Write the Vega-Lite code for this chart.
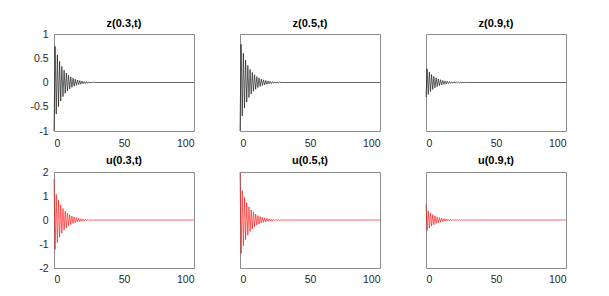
{
"$schema": "https://vega.github.io/schema/vega-lite/v6.json",
"padding": {"left": 29, "top": 18, "right": 5, "bottom": 5},
"background": "white",
"config": {
  "font": "Liberation Sans",
  "view": {"stroke": "#8c8c8c", "strokeWidth": 1},
  "axis": {"grid": false, "domain": false, "ticks": false, "labelFontSize": 10.5, "labelColor": "#262626", "labelPadding": 4, "title": null, "labelExpr": "'' + datum.value"},
  "axisX": {"labelPadding": 5},
  "header": {"labelFontWeight": "bold", "labelFontSize": 11, "labelColor": "#000000", "labelPadding": 4, "labelFont": "Liberation Sans"}
},
"datasets": {
  "z": [
    {"p":"z(0.3,t)","t":0,"v":-1},{"p":"z(0.3,t)","t":0.8,"v":0.744},{"p":"z(0.3,t)","t":1.6,"v":-0.651},{"p":"z(0.3,t)","t":2.4,"v":0.57},{"p":"z(0.3,t)","t":3.2,"v":-0.499},{"p":"z(0.3,t)","t":4,"v":0.436},{"p":"z(0.3,t)","t":4.8,"v":-0.382},{"p":"z(0.3,t)","t":5.6,"v":0.334},{"p":"z(0.3,t)","t":6.4,"v":-0.292},{"p":"z(0.3,t)","t":7.2,"v":0.256},{"p":"z(0.3,t)","t":8,"v":-0.224},{"p":"z(0.3,t)","t":8.8,"v":0.196},{"p":"z(0.3,t)","t":9.6,"v":-0.172},{"p":"z(0.3,t)","t":10.4,"v":0.15},{"p":"z(0.3,t)","t":11.2,"v":-0.132},{"p":"z(0.3,t)","t":12,"v":0.115},{"p":"z(0.3,t)","t":12.8,"v":-0.1},{"p":"z(0.3,t)","t":13.6,"v":0.088},{"p":"z(0.3,t)","t":14.4,"v":-0.077},{"p":"z(0.3,t)","t":15.2,"v":0.067},{"p":"z(0.3,t)","t":16,"v":-0.059},{"p":"z(0.3,t)","t":16.8,"v":0.052},{"p":"z(0.3,t)","t":17.6,"v":-0.045},{"p":"z(0.3,t)","t":18.4,"v":0.04},{"p":"z(0.3,t)","t":19.2,"v":-0.035},{"p":"z(0.3,t)","t":20,"v":0.031},{"p":"z(0.3,t)","t":20.8,"v":-0.026},{"p":"z(0.3,t)","t":21.6,"v":0.023},{"p":"z(0.3,t)","t":22.4,"v":-0.02},{"p":"z(0.3,t)","t":23.2,"v":0.018},{"p":"z(0.3,t)","t":24,"v":-0.015},{"p":"z(0.3,t)","t":24.8,"v":0.014},{"p":"z(0.3,t)","t":25.6,"v":-0.012},{"p":"z(0.3,t)","t":26.4,"v":0.01},{"p":"z(0.3,t)","t":27.2,"v":-0.009},{"p":"z(0.3,t)","t":28,"v":0.008},{"p":"z(0.3,t)","t":30,"v":0},{"p":"z(0.3,t)","t":100,"v":0},
    {"p":"z(0.5,t)","t":0,"v":-1},{"p":"z(0.5,t)","t":0.8,"v":0.788},{"p":"z(0.5,t)","t":1.6,"v":-0.689},{"p":"z(0.5,t)","t":2.4,"v":0.603},{"p":"z(0.5,t)","t":3.2,"v":-0.528},{"p":"z(0.5,t)","t":4,"v":0.462},{"p":"z(0.5,t)","t":4.8,"v":-0.404},{"p":"z(0.5,t)","t":5.6,"v":0.354},{"p":"z(0.5,t)","t":6.4,"v":-0.31},{"p":"z(0.5,t)","t":7.2,"v":0.271},{"p":"z(0.5,t)","t":8,"v":-0.238},{"p":"z(0.5,t)","t":8.8,"v":0.208},{"p":"z(0.5,t)","t":9.6,"v":-0.182},{"p":"z(0.5,t)","t":10.4,"v":0.159},{"p":"z(0.5,t)","t":11.2,"v":-0.14},{"p":"z(0.5,t)","t":12,"v":0.122},{"p":"z(0.5,t)","t":12.8,"v":-0.106},{"p":"z(0.5,t)","t":13.6,"v":0.094},{"p":"z(0.5,t)","t":14.4,"v":-0.082},{"p":"z(0.5,t)","t":15.2,"v":0.071},{"p":"z(0.5,t)","t":16,"v":-0.062},{"p":"z(0.5,t)","t":16.8,"v":0.055},{"p":"z(0.5,t)","t":17.6,"v":-0.048},{"p":"z(0.5,t)","t":18.4,"v":0.042},{"p":"z(0.5,t)","t":19.2,"v":-0.037},{"p":"z(0.5,t)","t":20,"v":0.032},{"p":"z(0.5,t)","t":20.8,"v":-0.028},{"p":"z(0.5,t)","t":21.6,"v":0.024},{"p":"z(0.5,t)","t":22.4,"v":-0.022},{"p":"z(0.5,t)","t":23.2,"v":0.019},{"p":"z(0.5,t)","t":24,"v":-0.016},{"p":"z(0.5,t)","t":24.8,"v":0.014},{"p":"z(0.5,t)","t":25.6,"v":-0.013},{"p":"z(0.5,t)","t":26.4,"v":0.011},{"p":"z(0.5,t)","t":27.2,"v":-0.01},{"p":"z(0.5,t)","t":28,"v":0.008},{"p":"z(0.5,t)","t":30,"v":0},{"p":"z(0.5,t)","t":100,"v":0},
    {"p":"z(0.9,t)","t":0,"v":-0.3},{"p":"z(0.9,t)","t":0.8,"v":0.28},{"p":"z(0.9,t)","t":1.6,"v":-0.245},{"p":"z(0.9,t)","t":2.4,"v":0.214},{"p":"z(0.9,t)","t":3.2,"v":-0.188},{"p":"z(0.9,t)","t":4,"v":0.164},{"p":"z(0.9,t)","t":4.8,"v":-0.144},{"p":"z(0.9,t)","t":5.6,"v":0.126},{"p":"z(0.9,t)","t":6.4,"v":-0.11},{"p":"z(0.9,t)","t":7.2,"v":0.096},{"p":"z(0.9,t)","t":8,"v":-0.084},{"p":"z(0.9,t)","t":8.8,"v":0.074},{"p":"z(0.9,t)","t":9.6,"v":-0.065},{"p":"z(0.9,t)","t":10.4,"v":0.057},{"p":"z(0.9,t)","t":11.2,"v":-0.05},{"p":"z(0.9,t)","t":12,"v":0.043},{"p":"z(0.9,t)","t":12.8,"v":-0.038},{"p":"z(0.9,t)","t":13.6,"v":0.033},{"p":"z(0.9,t)","t":14.4,"v":-0.029},{"p":"z(0.9,t)","t":15.2,"v":0.025},{"p":"z(0.9,t)","t":16,"v":-0.022},{"p":"z(0.9,t)","t":16.8,"v":0.02},{"p":"z(0.9,t)","t":17.6,"v":-0.017},{"p":"z(0.9,t)","t":18.4,"v":0.015},{"p":"z(0.9,t)","t":19.2,"v":-0.013},{"p":"z(0.9,t)","t":20,"v":0.012},{"p":"z(0.9,t)","t":20.8,"v":-0.01},{"p":"z(0.9,t)","t":21.6,"v":0.009},{"p":"z(0.9,t)","t":22.4,"v":-0.008},{"p":"z(0.9,t)","t":23.2,"v":0.007},{"p":"z(0.9,t)","t":24,"v":-0.006},{"p":"z(0.9,t)","t":24.8,"v":0.005},{"p":"z(0.9,t)","t":25.6,"v":-0.004},{"p":"z(0.9,t)","t":26.4,"v":0.004},{"p":"z(0.9,t)","t":27.2,"v":-0.004},{"p":"z(0.9,t)","t":28,"v":0.003},{"p":"z(0.9,t)","t":30,"v":0},{"p":"z(0.9,t)","t":100,"v":0}
  ],
  "u": [
    {"p":"u(0.3,t)","t":0,"v":1.7},{"p":"u(0.3,t)","t":0.8,"v":-1.225},{"p":"u(0.3,t)","t":1.6,"v":1.072},{"p":"u(0.3,t)","t":2.4,"v":-0.938},{"p":"u(0.3,t)","t":3.2,"v":0.822},{"p":"u(0.3,t)","t":4,"v":-0.718},{"p":"u(0.3,t)","t":4.8,"v":0.629},{"p":"u(0.3,t)","t":5.6,"v":-0.55},{"p":"u(0.3,t)","t":6.4,"v":0.482},{"p":"u(0.3,t)","t":7.2,"v":-0.421},{"p":"u(0.3,t)","t":8,"v":0.37},{"p":"u(0.3,t)","t":8.8,"v":-0.323},{"p":"u(0.3,t)","t":9.6,"v":0.283},{"p":"u(0.3,t)","t":10.4,"v":-0.248},{"p":"u(0.3,t)","t":11.2,"v":0.217},{"p":"u(0.3,t)","t":12,"v":-0.189},{"p":"u(0.3,t)","t":12.8,"v":0.165},{"p":"u(0.3,t)","t":13.6,"v":-0.146},{"p":"u(0.3,t)","t":14.4,"v":0.127},{"p":"u(0.3,t)","t":15.2,"v":-0.111},{"p":"u(0.3,t)","t":16,"v":0.097},{"p":"u(0.3,t)","t":16.8,"v":-0.085},{"p":"u(0.3,t)","t":17.6,"v":0.074},{"p":"u(0.3,t)","t":18.4,"v":-0.066},{"p":"u(0.3,t)","t":19.2,"v":0.057},{"p":"u(0.3,t)","t":20,"v":-0.05},{"p":"u(0.3,t)","t":20.8,"v":0.043},{"p":"u(0.3,t)","t":21.6,"v":-0.038},{"p":"u(0.3,t)","t":22.4,"v":0.034},{"p":"u(0.3,t)","t":23.2,"v":-0.029},{"p":"u(0.3,t)","t":24,"v":0.025},{"p":"u(0.3,t)","t":24.8,"v":-0.022},{"p":"u(0.3,t)","t":25.6,"v":0.02},{"p":"u(0.3,t)","t":26.4,"v":-0.017},{"p":"u(0.3,t)","t":27.2,"v":0.015},{"p":"u(0.3,t)","t":28,"v":-0.013},{"p":"u(0.3,t)","t":30,"v":0},{"p":"u(0.3,t)","t":100,"v":0},
    {"p":"u(0.5,t)","t":0,"v":2},{"p":"u(0.5,t)","t":0.8,"v":-1.4},{"p":"u(0.5,t)","t":1.6,"v":1.226},{"p":"u(0.5,t)","t":2.4,"v":-1.072},{"p":"u(0.5,t)","t":3.2,"v":0.939},{"p":"u(0.5,t)","t":4,"v":-0.821},{"p":"u(0.5,t)","t":4.8,"v":0.718},{"p":"u(0.5,t)","t":5.6,"v":-0.629},{"p":"u(0.5,t)","t":6.4,"v":0.55},{"p":"u(0.5,t)","t":7.2,"v":-0.482},{"p":"u(0.5,t)","t":8,"v":0.422},{"p":"u(0.5,t)","t":8.8,"v":-0.37},{"p":"u(0.5,t)","t":9.6,"v":0.323},{"p":"u(0.5,t)","t":10.4,"v":-0.283},{"p":"u(0.5,t)","t":11.2,"v":0.248},{"p":"u(0.5,t)","t":12,"v":-0.216},{"p":"u(0.5,t)","t":12.8,"v":0.189},{"p":"u(0.5,t)","t":13.6,"v":-0.166},{"p":"u(0.5,t)","t":14.4,"v":0.146},{"p":"u(0.5,t)","t":15.2,"v":-0.126},{"p":"u(0.5,t)","t":16,"v":0.11},{"p":"u(0.5,t)","t":16.8,"v":-0.098},{"p":"u(0.5,t)","t":17.6,"v":0.085},{"p":"u(0.5,t)","t":18.4,"v":-0.075},{"p":"u(0.5,t)","t":19.2,"v":0.066},{"p":"u(0.5,t)","t":20,"v":-0.058},{"p":"u(0.5,t)","t":20.8,"v":0.05},{"p":"u(0.5,t)","t":21.6,"v":-0.043},{"p":"u(0.5,t)","t":22.4,"v":0.038},{"p":"u(0.5,t)","t":23.2,"v":-0.034},{"p":"u(0.5,t)","t":24,"v":0.029},{"p":"u(0.5,t)","t":24.8,"v":-0.026},{"p":"u(0.5,t)","t":25.6,"v":0.022},{"p":"u(0.5,t)","t":26.4,"v":-0.019},{"p":"u(0.5,t)","t":27.2,"v":0.018},{"p":"u(0.5,t)","t":28,"v":-0.014},{"p":"u(0.5,t)","t":30,"v":0},{"p":"u(0.5,t)","t":100,"v":0},
    {"p":"u(0.9,t)","t":0,"v":0.65},{"p":"u(0.9,t)","t":0.8,"v":-0.438},{"p":"u(0.9,t)","t":1.6,"v":0.383},{"p":"u(0.9,t)","t":2.4,"v":-0.335},{"p":"u(0.9,t)","t":3.2,"v":0.294},{"p":"u(0.9,t)","t":4,"v":-0.257},{"p":"u(0.9,t)","t":4.8,"v":0.225},{"p":"u(0.9,t)","t":5.6,"v":-0.197},{"p":"u(0.9,t)","t":6.4,"v":0.172},{"p":"u(0.9,t)","t":7.2,"v":-0.151},{"p":"u(0.9,t)","t":8,"v":0.132},{"p":"u(0.9,t)","t":8.8,"v":-0.116},{"p":"u(0.9,t)","t":9.6,"v":0.101},{"p":"u(0.9,t)","t":10.4,"v":-0.089},{"p":"u(0.9,t)","t":11.2,"v":0.078},{"p":"u(0.9,t)","t":12,"v":-0.068},{"p":"u(0.9,t)","t":12.8,"v":0.059},{"p":"u(0.9,t)","t":13.6,"v":-0.052},{"p":"u(0.9,t)","t":14.4,"v":0.046},{"p":"u(0.9,t)","t":15.2,"v":-0.04},{"p":"u(0.9,t)","t":16,"v":0.035},{"p":"u(0.9,t)","t":16.8,"v":-0.031},{"p":"u(0.9,t)","t":17.6,"v":0.027},{"p":"u(0.9,t)","t":18.4,"v":-0.024},{"p":"u(0.9,t)","t":19.2,"v":0.021},{"p":"u(0.9,t)","t":20,"v":-0.018},{"p":"u(0.9,t)","t":20.8,"v":0.016},{"p":"u(0.9,t)","t":21.6,"v":-0.014},{"p":"u(0.9,t)","t":22.4,"v":0.012},{"p":"u(0.9,t)","t":23.2,"v":-0.011},{"p":"u(0.9,t)","t":24,"v":0.009},{"p":"u(0.9,t)","t":24.8,"v":-0.008},{"p":"u(0.9,t)","t":25.6,"v":0.007},{"p":"u(0.9,t)","t":26.4,"v":-0.006},{"p":"u(0.9,t)","t":27.2,"v":0.006},{"p":"u(0.9,t)","t":28,"v":-0.005},{"p":"u(0.9,t)","t":30,"v":0},{"p":"u(0.9,t)","t":100,"v":0}
  ]
},
"spacing": 6,
"vconcat": [
  {
    "data": {"name": "z"},
    "spacing": 42,
    "facet": {"column": {"field": "p", "type": "nominal", "title": null}},
    "spec": {
      "width": 140, "height": 97,
      "mark": {"type": "line", "color": "#000000", "strokeWidth": 0.6},
      "encoding": {
        "x": {"field": "t", "type": "quantitative", "scale": {"domain": [0, 100], "nice": false}, "axis": {"values": [0, 50, 100]}},
        "y": {"field": "v", "type": "quantitative", "scale": {"domain": [-1, 1], "nice": false}, "axis": {"values": [-1, -0.5, 0, 0.5, 1]}}
      }
    }
  },
  {
    "data": {"name": "u"},
    "spacing": 42,
    "facet": {"column": {"field": "p", "type": "nominal", "title": null}},
    "spec": {
      "width": 140, "height": 96,
      "mark": {"type": "line", "color": "#ff0000", "strokeWidth": 0.6},
      "encoding": {
        "x": {"field": "t", "type": "quantitative", "scale": {"domain": [0, 100], "nice": false}, "axis": {"values": [0, 50, 100]}},
        "y": {"field": "v", "type": "quantitative", "scale": {"domain": [-2, 2], "nice": false}, "axis": {"values": [-2, -1, 0, 1, 2]}}
      }
    }
  }
]
}
